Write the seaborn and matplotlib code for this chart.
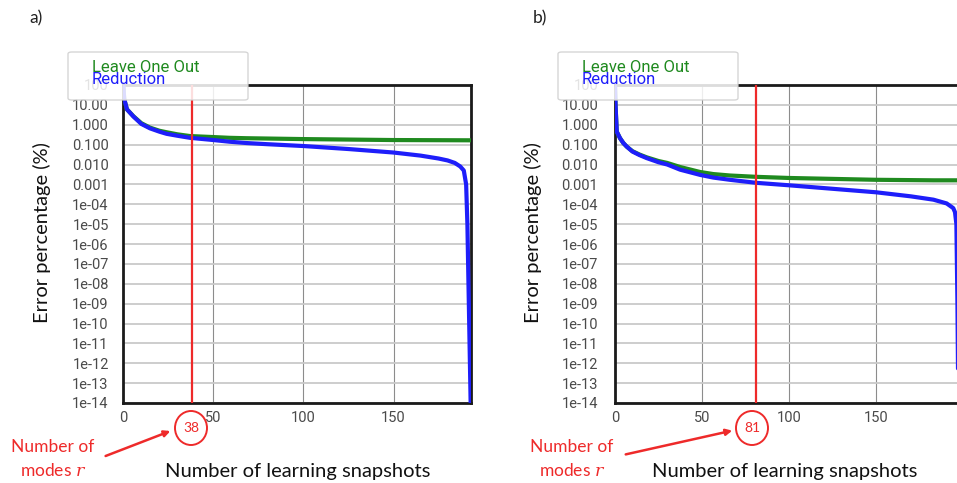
import numpy as np
import pandas as pd
import matplotlib
matplotlib.use("Agg")
import matplotlib.pyplot as plt
import seaborn as sns
from matplotlib.patches import FancyBboxPatch, Ellipse, FancyArrowPatch
from matplotlib.ticker import FixedLocator, FixedFormatter, NullLocator

# ---------------- data ----------------
# panel a)
a_red_x = [0, 0.5, 2, 5.6, 10, 14.8, 20, 24, 30, 37, 50, 59, 68.5, 80, 100, 125, 150, 165, 175, 180,
           184, 187, 189, 190.3, 191, 192, 192.8]
a_red_y = [100, 20, 6, 2.6, 1.1, 0.66, 0.45, 0.35, 0.28, 0.22, 0.17, 0.14, 0.12, 0.105, 0.085, 0.06,
           0.04, 0.028, 0.02, 0.016, 0.012, 0.008, 0.005, 0.001, 1e-5, 1e-10, 1e-14]
a_loo_x = [0, 0.5, 2, 5.6, 10, 14.8, 20, 24, 30, 37, 50, 59, 68.5, 100, 150, 193]
a_loo_y = [100, 20, 6, 2.7, 1.2, 0.72, 0.5, 0.42, 0.33, 0.27, 0.24, 0.22, 0.21, 0.19, 0.17, 0.165]
a_modes = 38

# panel b)
b_red_x = [0, 0.3, 1, 2.9, 4.8, 6.7, 10, 14, 18.2, 25, 30, 37.4, 48.9, 56.5, 66, 81, 100, 125, 150,
           170, 183, 190.6, 194.4, 195.4, 196.2, 196.8, 197.3]
b_red_y = [100, 10, 0.45, 0.21, 0.12, 0.08, 0.045, 0.03, 0.021, 0.013, 0.01, 0.0055, 0.003, 0.0022,
           0.0017, 0.0012, 0.0009, 0.0006, 0.0004, 0.00025, 0.00017, 0.00011, 6.4e-5, 4e-5, 1e-5,
           1e-9, 1e-14]
b_loo_x = [0, 0.3, 1, 2.9, 4.8, 6.7, 10, 14, 18.2, 25, 30, 37.4, 48.9, 56.5, 66, 81, 100, 150, 183, 200]
b_loo_y = [100, 10, 0.45, 0.21, 0.12, 0.08, 0.047, 0.032, 0.023, 0.015, 0.012, 0.0075, 0.0042,
           0.0033, 0.0028, 0.0024, 0.0021, 0.0017, 0.0016, 0.0016]
b_modes = 81

ytick_vals = [10.0 ** k for k in range(2, -15, -1)]
ytick_labels = ["100", "10.00", "1.000", "0.100", "0.010", "0.001", "1e-04", "1e-05", "1e-06",
                "1e-07", "1e-08", "1e-09", "1e-10", "1e-11", "1e-12", "1e-13", "1e-14"]
xtick_vals = [0, 50, 100, 150]
xtick_labels = ["0", "50", "100", "150"]
series_names = ["Leave One Out", "Reduction"]

# ---------------- style ----------------
sns.set_theme(style="whitegrid")
plt.rcParams['font.family'] = ['Roboto', 'DejaVu Sans']
plt.rcParams['mathtext.fontset'] = 'dejavuserif'

W, H = 957, 483
fig = plt.figure(figsize=(W / 100, H / 100), dpi=100)
fig.patch.set_facecolor("white")

GREEN = "#1f8a1f"
BLUE = "#1e1efa"
RED = "#ee2a2a"
LBL = "#4a4a4a"


def fx(px):
    return px / W


def fy(py):
    return 1 - py / H


def panel(rect, loo_x, loo_y, red_x, red_y, modes, xmax, pad):
    ax = fig.add_axes(rect)
    df_loo = pd.DataFrame({"n": loo_x, "err": loo_y})
    df_red = pd.DataFrame({"n": red_x, "err": red_y})
    sns.lineplot(data=df_loo, x="n", y="err", color=GREEN, lw=3, ax=ax,
                 estimator=None, sort=False, zorder=3)
    sns.lineplot(data=df_red, x="n", y="err", color=BLUE, lw=3, ax=ax,
                 estimator=None, sort=False, zorder=4)
    ax.axvline(modes, color=RED, lw=1.6, zorder=5)
    ax.set_yscale("log")
    ax.set_ylim(1e-14, 100)
    ax.set_xlim(0, xmax)
    ax.yaxis.set_major_locator(FixedLocator(ytick_vals))
    ax.yaxis.set_major_formatter(FixedFormatter(ytick_labels))
    ax.yaxis.set_minor_locator(NullLocator())
    ax.set_xticks(xtick_vals)
    ax.set_xticklabels(xtick_labels)
    ax.set_xlabel("")
    ax.set_ylabel("")
    ax.set_facecolor("white")
    ax.grid(False)
    ax.grid(True, axis="y", color="#c9c9c9", lw=1.3)
    ax.grid(True, axis="x", color="#8c8c8c", lw=0.8)
    ax.tick_params(axis="y", length=0, pad=pad, labelsize=10.5, labelcolor=LBL)
    ax.tick_params(axis="x", length=0, pad=6, labelsize=10.5, labelcolor=LBL)
    for s in ax.spines.values():
        s.set_color("#1a1a1a")
        s.set_linewidth(2)
        s.set_visible(True)
    return ax


axh = 318 / H
axb = fy(403)
ax_a = panel([fx(123.3), axb, 347.7 / W, axh], a_loo_x, a_loo_y, a_red_x, a_red_y, a_modes, 193, 10.5)
ax_b = panel([fx(615), axb, 348 / W, axh], b_loo_x, b_loo_y, b_red_x, b_red_y, b_modes, 200, 12)

TXT = ['Lato', 'DejaVu Sans']

# panel letters
fig.text(fx(36), fy(18), "a)", fontsize=12.5, color="#222222", family=TXT, ha="center", va="center")
fig.text(fx(540), fy(18), "b)", fontsize=12.5, color="#222222", family=TXT, ha="center", va="center")

# axis labels
for cx in (42, 533):
    fig.text(fx(cx), fy(233), "Error percentage (%)", rotation=90, fontsize=14.5, color="#111111",
             family=TXT, ha="center", va="center")
for cx in (298, 785):
    fig.text(fx(cx), fy(471), "Number of learning snapshots", fontsize=14.5, color="#111111",
             family=TXT, ha="center", va="center")

# legends (text-only, semi-transparent box)
for x0 in (68, 558):
    box = FancyBboxPatch((fx(x0), fy(100)), 180 / W, 48 / H, transform=fig.transFigure,
                         boxstyle="round,pad=0,rounding_size=0.004", facecolor="white",
                         edgecolor="#cfcfcf", lw=1.0, alpha=0.85, zorder=10)
    fig.add_artist(box)
    fig.text(fx(x0 + 24), fy(68), series_names[0], color=GREEN, fontsize=12, ha="left",
             va="center", zorder=11)
    fig.text(fx(x0 + 24), fy(80), series_names[1], color=BLUE, fontsize=12, ha="left",
             va="center", zorder=11)

# modes annotations
for (ccx, label, tx, ax0, ay0, ax1, ay1) in [
    (191, str(a_modes), 53, 103, 457, 173, 430),
    (752, str(b_modes), 572, 623, 455, 735, 430),
]:
    e = Ellipse((fx(ccx), fy(428)), 32 / W, 34 / H, transform=fig.transFigure,
                facecolor="white", edgecolor=RED, lw=1.4, zorder=12)
    fig.add_artist(e)
    fig.text(fx(ccx), fy(428), label, color=RED, fontsize=10, ha="center", va="center",
             family=TXT, zorder=13)
    fig.text(fx(tx), fy(447), "Number of", color=RED, fontsize=12.5, ha="center", va="center",
             family=TXT)
    fig.text(fx(tx), fy(470), "modes $r$", color=RED, fontsize=12.5, ha="center", va="center",
             family=TXT)
    arr = FancyArrowPatch((fx(ax0), fy(ay0)), (fx(ax1), fy(ay1)), transform=fig.transFigure,
                          arrowstyle="-|>", mutation_scale=9, color=RED, lw=1.8, zorder=12)
    fig.add_artist(arr)

fig.savefig("out.png", dpi=100)
